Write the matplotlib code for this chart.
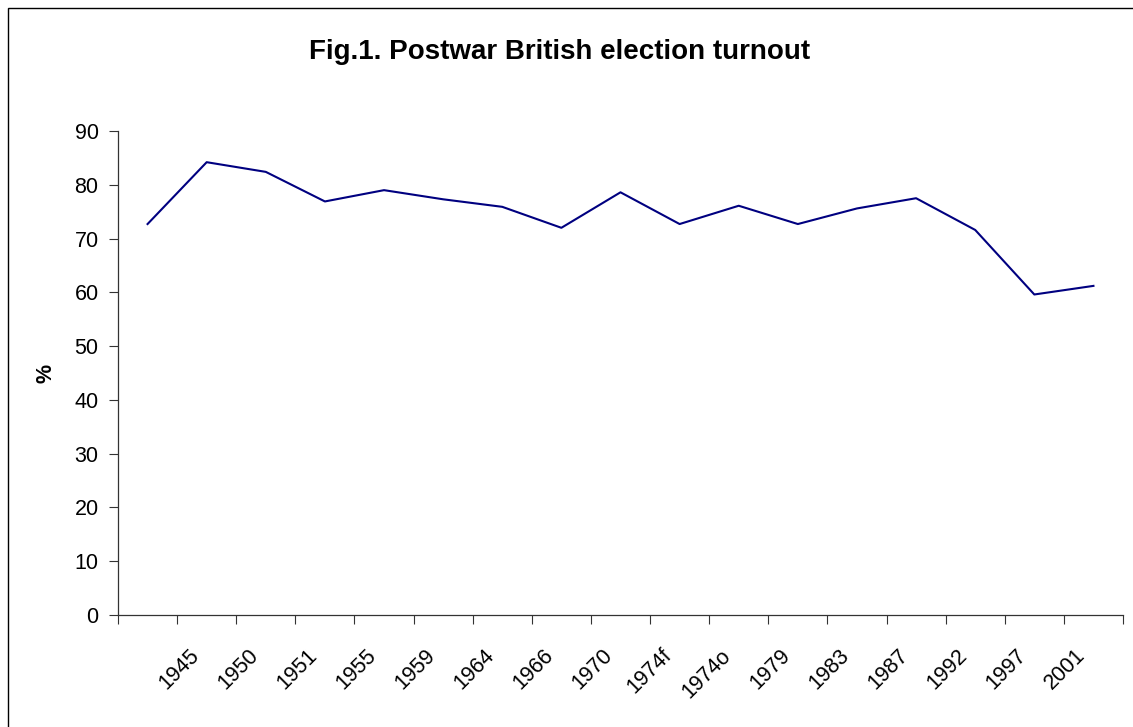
import matplotlib.pyplot as plt
import matplotlib.patches as mpatches
import matplotlib.transforms as mtransforms
import numpy as np

plt.rcParams['font.family'] = ['Liberation Sans', 'DejaVu Sans']

# category labels as printed on the chart (first category has no label)
labels = ['', '1945', '1950', '1951', '1955', '1959', '1964', '1966', '1970',
          '1974f', '1974o', '1979', '1983', '1987', '1992', '1997', '2001']
turnout = [72.7, 84.2, 82.4, 76.9, 79.0, 77.3, 75.9, 72.0, 78.6,
           72.7, 76.1, 72.7, 75.6, 77.5, 71.6, 59.6, 61.2]

W, H = 1133, 727
fig = plt.figure(figsize=(W / 100, H / 100), dpi=100)
ax = fig.add_axes([118 / W, 1 - 615 / H, (1123 - 118) / W, (615 - 131) / H])

x = np.arange(1, len(turnout) + 1)
ax.plot(x, turnout, color='#000080', lw=1.5)

ax.set_xlim(0.5, len(turnout) + 0.5)
ax.set_ylim(0, 90)
ax.set_yticks(range(0, 91, 10))

# major ticks between categories, labels at category centres
ax.set_xticks(np.arange(0.5, len(turnout) + 1, 1.0))
ax.set_xticklabels([])
ax.set_xticks(x, minor=True)
ax.set_xticklabels(labels, minor=True, rotation=45, ha='right', va='center',
                   rotation_mode='anchor', fontsize=15.5)
ax.tick_params(axis='x', which='minor', length=0, pad=27)
ax.tick_params(axis='both', which='major', direction='out', length=6.5,
               width=0.8, color='#333333', labelsize=15.5)
ax.tick_params(axis='y', pad=7.5)

# nudge the rotated labels a bit left, like the original
shift = mtransforms.ScaledTranslation(-0.11, 0, fig.dpi_scale_trans)
for lab in ax.get_xticklabels(minor=True):
    lab.set_transform(lab.get_transform() + shift)

for s in ['top', 'right']:
    ax.spines[s].set_visible(False)
for s in ['left', 'bottom']:
    ax.spines[s].set_color('#333333')
    ax.spines[s].set_linewidth(0.9)

ax.set_ylabel('%', fontsize=15.5, fontweight='bold', labelpad=0)
ax.yaxis.set_label_coords((57 - 118) / (1123 - 118), 0.5)

fig.text(560 / W, 1 - 52 / H, 'Fig.1. Postwar British election turnout',
         ha='center', va='center', fontsize=20, fontweight='bold')

border = mpatches.Rectangle((7.5 / W, -0.1), 1.2, (H - 7.5) / H + 0.1,
                            transform=fig.transFigure, fill=False,
                            ec='black', lw=1)
fig.patches.append(border)

fig.savefig('out.png', dpi=100)
